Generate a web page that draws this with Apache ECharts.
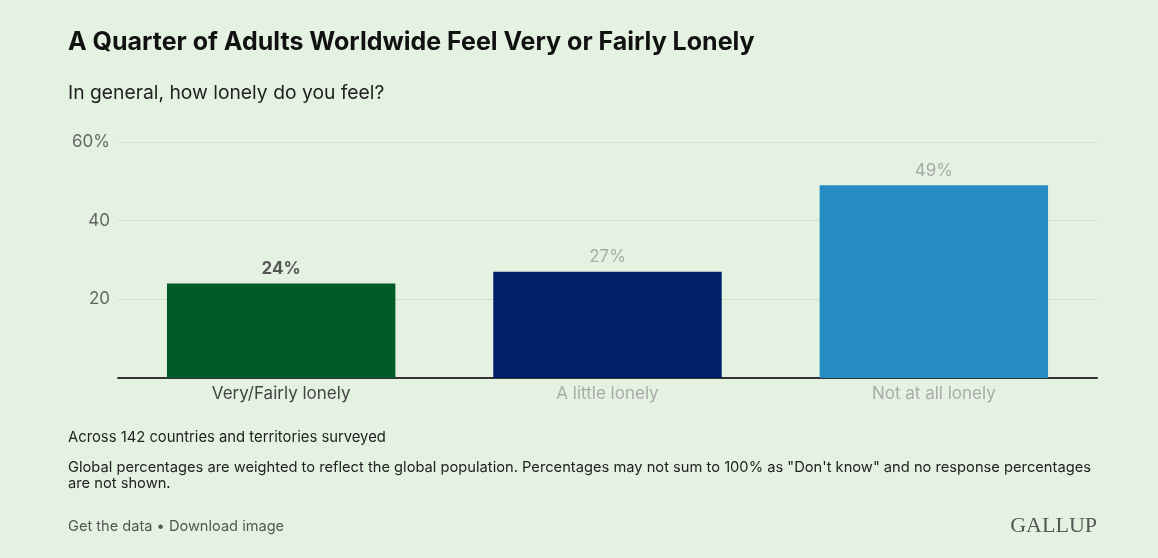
<!DOCTYPE html>
<html><head><meta charset="utf-8">
<script src="https://cdn.jsdelivr.net/npm/echarts@6/dist/echarts.min.js"></script>
<style>html,body{margin:0;padding:0;background:#e4f2e2;}#c{width:1158px;height:558px;}</style>
</head><body><div id="c"></div>
<script>
const categories = ['Very/Fairly lonely', 'A little lonely', 'Not at all lonely'];
const values = [24, 27, 49];
const barColors = ['#005c27', '#001f66', '#248cc2'];
const yTicks = [0, 20, 40, 60];

const chart = echarts.init(document.getElementById('c'));
const F = 'Inter, Roboto, sans-serif';
chart.setOption({
  backgroundColor: '#e4f2e2',
  animation: false,
  title: [
    {text: 'A Quarter of Adults Worldwide Feel Very or Fairly Lonely', left: 63, top: 25,
     textStyle: {fontFamily: F, fontSize: 25, fontWeight: 'bold', color: '#111'}},
    {text: 'In general, how lonely do you feel?', left: 63, top: 79,
     textStyle: {fontFamily: F, fontSize: 19.3, fontWeight: 'normal', color: '#222'}},
    {text: 'Across 142 countries and territories surveyed', left: 63, top: 425,
     textStyle: {fontFamily: F, fontSize: 14.8, fontWeight: 'normal', color: '#222'}},
    {text: 'Global percentages are weighted to reflect the global population. Percentages may not sum to 100% as "Don\'t know" and no response percentages\nare not shown.', left: 63, top: 455,
     textStyle: {fontFamily: F, fontSize: 14.7, fontWeight: 'normal', color: '#222', lineHeight: 15.5}},
    {text: 'Get the data • Download image', left: 63, top: 514,
     textStyle: {fontFamily: F, fontSize: 14.6, fontWeight: 'normal', color: '#555'}},
    {text: 'GALLUP', right: 56, top: 510,
     textStyle: {fontFamily: '"Liberation Serif", "DejaVu Serif", serif', fontSize: 22, fontWeight: 'normal', color: '#555'}}
  ],
  grid: {left: 118, right: 61, top: 142, bottom: 180, containLabel: false},
  xAxis: {
    type: 'category', data: categories,
    axisLine: {show: true, lineStyle: {color: '#333', width: 2}},
    axisTick: {show: false},
    axisLabel: {fontFamily: F, fontSize: 17, margin: 7,
      color: function(v, i){ return i === 0 ? '#444' : '#aaa'; }}
  },
  yAxis: {
    type: 'value', min: yTicks[0], max: yTicks[yTicks.length-1], interval: 20,
    axisLine: {show: false}, axisTick: {show: false},
    axisLabel: {fontFamily: F, fontSize: 17, color: '#666', margin: 8,
      formatter: function(v){ if (v === 0) return ''; return v === 60 ? v + '%' : String(v); }},
    splitLine: {lineStyle: {color: '#cfe0cc', width: 1}}
  },
  series: [{
    type: 'bar', barWidth: '70%',
    data: values.map(function(v, i){
      return {value: v, itemStyle: {color: barColors[i]},
        label: {show: true, position: 'top', distance: 6, formatter: v + '%',
          fontFamily: F, fontSize: 17,
          fontWeight: i === 0 ? 'bold' : 'normal',
          color: i === 0 ? '#555' : '#aaa'}};
    })
  }]
});
</script></body></html>
